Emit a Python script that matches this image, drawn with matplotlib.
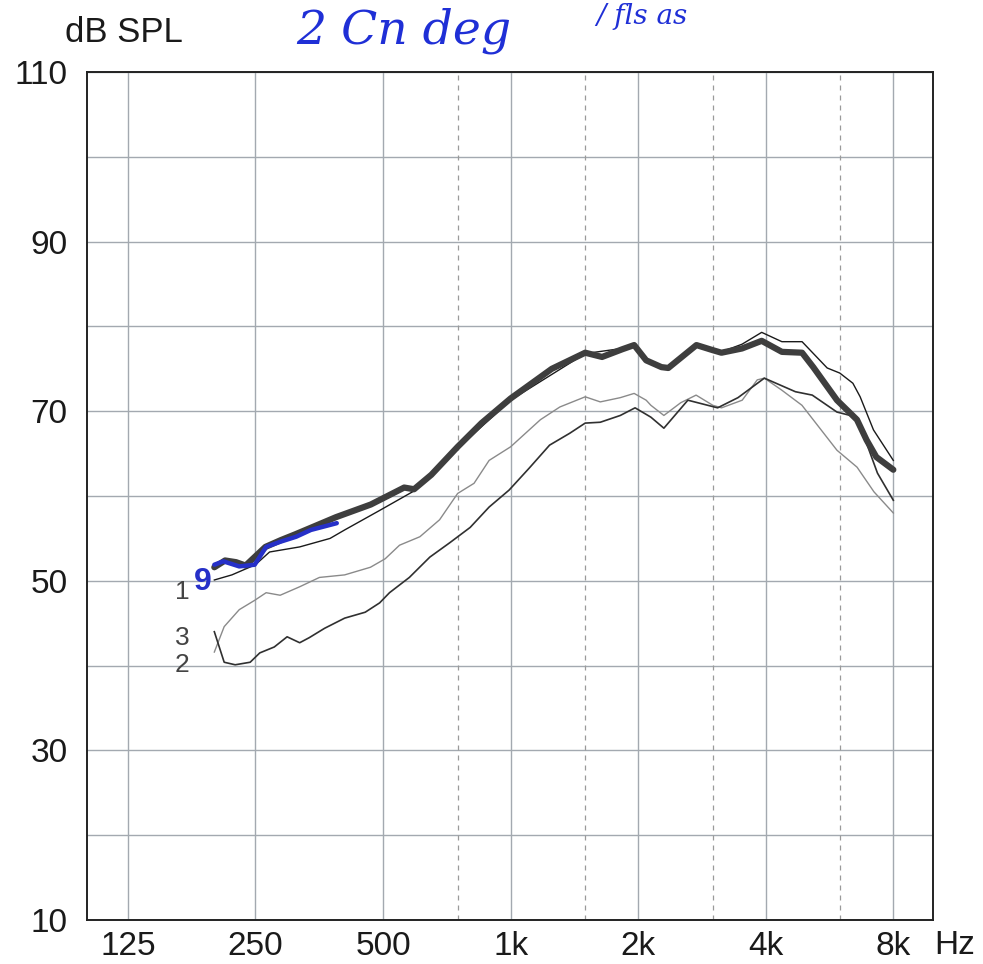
import matplotlib.pyplot as plt
import numpy as np

plt.rcParams['font.family'] = ['Liberation Sans', 'DejaVu Sans']

# curva gruesa (varias medidas superpuestas)
f_thick = [200, 212, 225, 237, 264, 287, 311, 347, 387, 468, 561, 592, 650, 750, 854,
           1000, 1251, 1500, 1644, 1833, 1957, 2089, 2270, 2356, 2745, 3000, 3144, 3516,
           3913, 4367, 4873, 5178, 5891, 6566, 6920, 7294, 8000]
db_thick = [51.6, 52.4, 52.2, 51.8, 54.0, 54.8, 55.5, 56.5, 57.5, 59.0, 61.0, 60.8, 62.5, 65.8, 68.6,
            71.5, 75.0, 76.9, 76.4, 77.3, 77.8, 76.0, 75.2, 75.1, 77.8, 77.2, 76.9, 77.4,
            78.3, 77.0, 76.9, 75.2, 71.3, 69.0, 66.6, 64.6, 63.1]

# curva 1 (fina, negra)
f_c1 = [200, 220, 250, 270, 318, 375, 406, 491, 592, 750, 1000, 1500, 1957, 2089, 2356,
        2745, 3144, 3516, 3913, 4367, 4873, 5585, 5981, 6422, 6681, 7182, 8000]
db_c1 = [50.1, 50.7, 51.9, 53.4, 54.0, 55.0, 56.0, 58.3, 60.6, 65.6, 71.3, 76.8, 77.6, 75.9, 75.0,
         77.6, 77.0, 77.9, 79.3, 78.2, 78.2, 75.1, 74.5, 73.3, 71.7, 67.8, 64.2]

# curva 3 (fina, gris claro)
f_c3 = [200, 211, 229, 249, 265, 286, 318, 354, 406, 467, 506, 547, 611, 680, 750, 820, 890,
        1000, 1176, 1307, 1500, 1628, 1815, 1957, 2089, 2143, 2300, 2520, 2740, 3000, 3146,
        3520, 3820, 3970, 4360, 4870, 5890, 6570, 7200, 8000]
db_c3 = [41.6, 44.6, 46.6, 47.7, 48.6, 48.3, 49.3, 50.4, 50.7, 51.6, 52.6, 54.2, 55.2, 57.2,
         60.3, 61.5, 64.2, 65.8, 69.0, 70.5, 71.7, 71.1, 71.6, 72.1, 71.3, 70.7, 69.5, 71.0,
         71.9, 70.7, 70.4, 71.3, 73.7, 73.9, 72.5, 70.7, 65.4, 63.4, 60.5, 58.0]

# curva 2 (fina, gris oscuro)
f_c2 = [200, 211, 224, 243, 256, 277, 297, 318, 335, 364, 406, 454, 491, 518, 577, 645, 719,
        803, 890, 992, 1107, 1236, 1379, 1500, 1628, 1815, 1967, 2143, 2300, 2620, 3080,
        3440, 3970, 4700, 5150, 5890, 6570, 6920, 7340, 8000]
db_c2 = [44.0, 40.4, 40.1, 40.4, 41.5, 42.2, 43.4, 42.7, 43.3, 44.4, 45.6, 46.3, 47.4, 48.6,
         50.4, 52.8, 54.5, 56.3, 58.7, 60.7, 63.3, 66.0, 67.4, 68.6, 68.7, 69.5, 70.4, 69.3,
         68.0, 71.3, 70.4, 71.6, 73.9, 72.3, 71.9, 69.9, 69.3, 66.2, 62.7, 59.5]

# trazo azul a mano
f_blue = [200, 210, 229, 249, 265, 286, 312, 338, 389]
db_blue = [51.9, 52.3, 51.7, 51.9, 54.0, 54.6, 55.2, 56.0, 56.8]

octavas = [125, 250, 500, 1000, 2000, 4000, 8000]
etiquetas_x = ['125', '250', '500', '1k', '2k', '4k', '8k']
lineas_intermedias = [750, 1500, 3000, 6000]
niveles = list(range(10, 111, 10))
etiquetas_y = ['10', '', '30', '', '50', '', '70', '', '90', '', '110']

fig = plt.figure(figsize=(9.83, 9.64), dpi=100)
ax = fig.add_axes([0.0885, 0.0456, 0.8605, 0.8797])
ax.set_xscale('log')
ax.set_xlim(125 / 2 ** 0.32, 8000 * 2 ** 0.31)
ax.set_ylim(10, 110)

ax.set_xticks(octavas)
ax.set_xticklabels(etiquetas_x)
ax.xaxis.set_minor_locator(plt.NullLocator())
ax.set_yticks(niveles)
ax.set_yticklabels(etiquetas_y)
ax.tick_params(length=0, labelsize=24, colors='#1a1a1a')
ax.tick_params(axis='y', pad=14)
ax.tick_params(axis='x', pad=8)
ax.grid(True, color='#a3a9b0', linewidth=1.0)
for f in lineas_intermedias:
    ax.axvline(f, color='#9a9a9a', linewidth=0.9, linestyle=(0, (4, 4)))
for s in ax.spines.values():
    s.set_linewidth(1.4)
    s.set_color('#222222')

ax.plot(f_c3, db_c3, color='#8a8a8a', linewidth=1.0)
ax.plot(f_c2, db_c2, color='#303030', linewidth=1.2)
ax.plot(f_c1, db_c1, color='#1a1a1a', linewidth=1.0)
ax.plot(f_thick, db_thick, color='#3e3e3e', linewidth=4.5, solid_capstyle='round')
ax.plot(f_blue, db_blue, color='#2630c8', linewidth=3.2, solid_capstyle='round')

ax.text(168, 48.7, '1', fontsize=19, color='#444444', ha='center', va='center')
ax.text(168, 43.3, '3', fontsize=19, color='#444444', ha='center', va='center')
ax.text(168, 40.1, '2', fontsize=19, color='#444444', ha='center', va='center')
ax.text(188, 49.9, '9', fontsize=23, color='#2630c8', ha='center', va='center',
        fontweight='bold')

fig.text(65 / 983, 1 - 32 / 964, 'dB SPL', fontsize=25, ha='left', va='center',
         color='#1a1a1a')
fig.text(955 / 983, 1 - 945 / 964, 'Hz', fontsize=24, ha='center', va='center',
         color='#1a1a1a')
fig.text(296 / 983, 1 - 43 / 964, '2 Cn deg', fontsize=34, color='#1f2fd6',
         family='DejaVu Serif', style='italic', ha='left', va='baseline')
fig.text(596 / 983, 1 - 3 / 964, '/ fls as', fontsize=20, color='#1f2fd6',
         family='DejaVu Serif', style='italic', ha='left', va='top')

fig.savefig('out.png', dpi=100)
